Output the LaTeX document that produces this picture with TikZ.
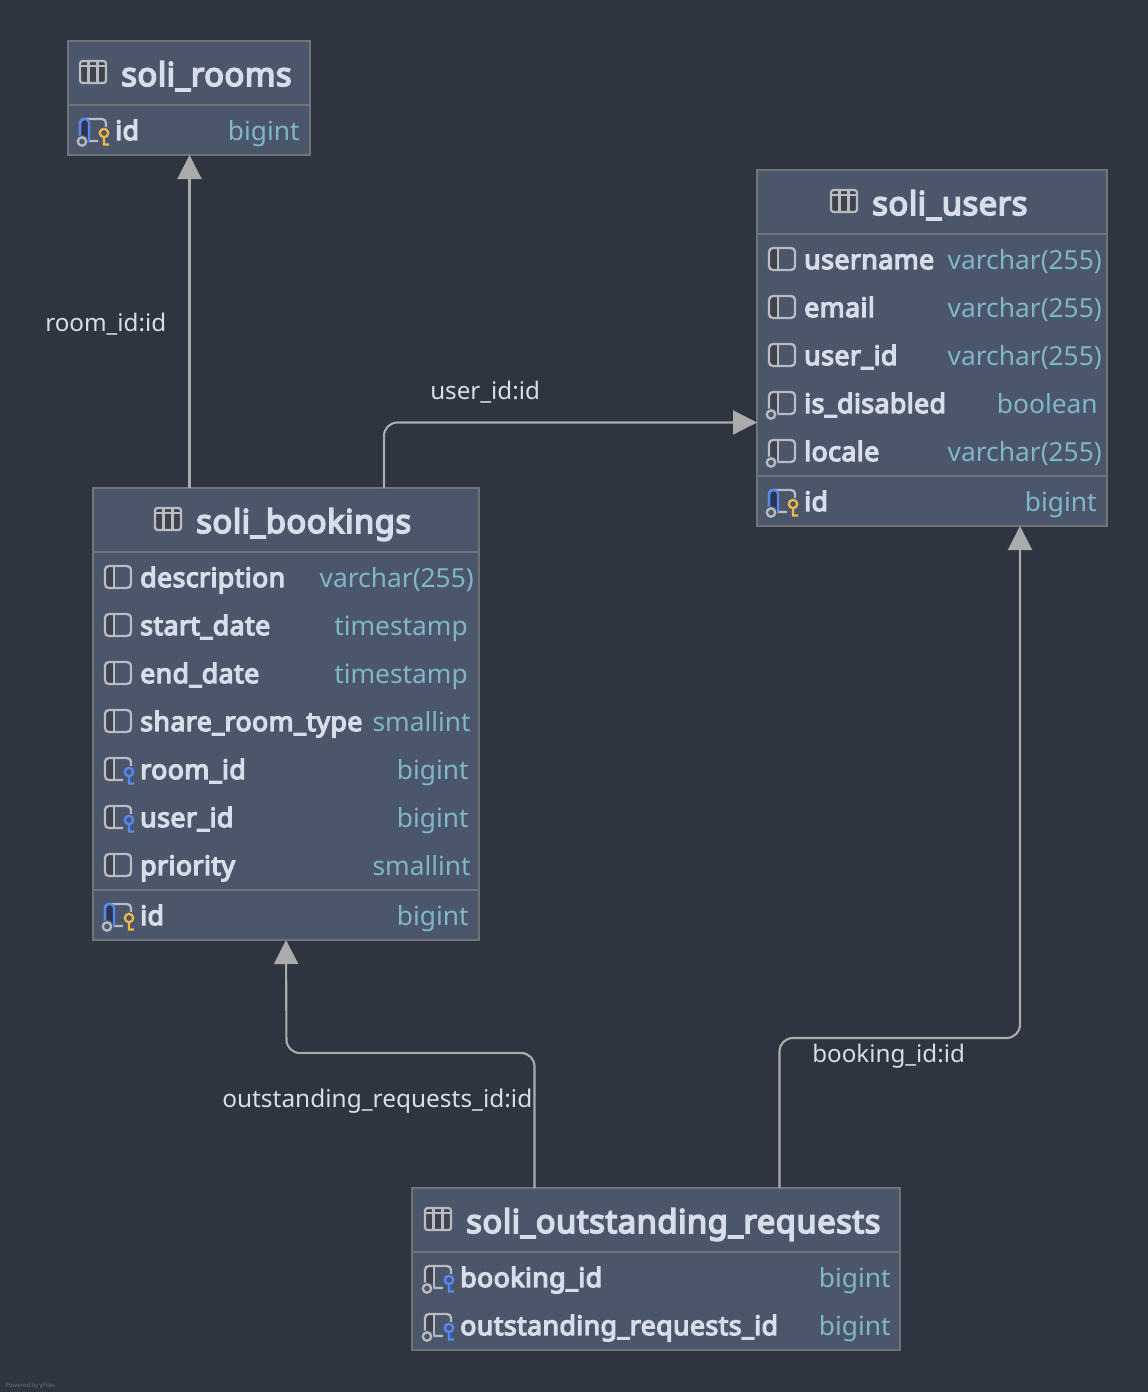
\documentclass[tikz,border=0pt]{standalone}
\usepackage{fontspec}
\setmainfont{Noto Sans}
\newfontface\headface{Noto Sans}[FakeBold=5, LetterSpace=1.7]
\usetikzlibrary{arrows.meta}
\definecolor{canvasbg}{HTML}{2E3440}
\definecolor{tablebg}{HTML}{4C566A}
\definecolor{tableline}{HTML}{6F7276}
\definecolor{nametext}{HTML}{D8DEE9}
\definecolor{typetext}{HTML}{7FB6C8}
\definecolor{edgeline}{HTML}{ABABAB}
\definecolor{iconline}{HTML}{B9BCC2}
\definecolor{icondark}{HTML}{3F434C}
\definecolor{keyblue}{HTML}{548AF7}
\definecolor{keygold}{HTML}{F2B84B}
\definecolor{pkdark}{HTML}{2B3550}
\begin{document}
\begin{tikzpicture}[
        x=0.75pt, y=-0.75pt,
        tablebox/.style={rectangle, draw=tableline, fill=tablebg, line width=1.1pt, outer sep=0pt},
        divider/.style={draw=tableline, line width=1.5pt},
        title/.style={anchor=base west, inner sep=0pt, font=\fontsize{24.5}{28}\headface, text=nametext},
        colname/.style={anchor=base west, inner sep=0pt, font=\fontsize{20}{24}\headface, text=nametext},
        coltype/.style={anchor=base east, inner sep=0pt, font=\fontsize{19.75}{24}\selectfont, text=typetext},
        edgelabel/.style={anchor=base west, inner sep=0pt, font=\fontsize{18.15}{22}\selectfont, text=nametext},
        relation/.style={-{Triangle[length=18pt, width=18pt]}, draw=edgeline, line width=1.6pt, rounded corners=10pt},
        pics/tableicon/.style={code={
            \draw[iconline, line width=1.7pt, fill=icondark, rounded corners=2pt] (-13,-11) rectangle (13,11);
            \draw[iconline, line width=1.7pt] (-13,-6) -- (13,-6) (-4.5,-11) -- (-4.5,11) (4.5,-11) -- (4.5,11);
        }},
        pics/colicon/.style={code={
            \fill[icondark, rounded corners=2pt] (-13,-11) rectangle (-4,11);
            \draw[iconline, line width=1.7pt, rounded corners=3pt] (-13,-11) rectangle (13,11);
            \draw[iconline, line width=1.7pt] (-4,-11) -- (-4,11);
        }},
        pics/pkicon/.style={code={
            \fill[pkdark, rounded corners=2pt] (-13,-11) rectangle (-4,11);
            \draw[iconline, line width=1.7pt, rounded corners=3pt] (-13,-11) rectangle (13,11);
            \draw[keyblue, line width=1.7pt, rounded corners=3pt] (-4,11) -- (-4,-11) -- (-13,-11) -- (-13,11);
        }},
        pics/nullmark/.style={code={
            \draw[iconline, line width=1.7pt, fill=tablebg, preaction={draw=tablebg, line width=3.5pt}] (-11,11.5) circle (4.2);
        }},
        pics/keymark/.style={code={
            \fill[tablebg] (4.5,-3) rectangle (18,16);
            \draw[#1, line width=1.7pt] (11,3) circle (4.2) (11,7) -- (11,15.5) (11,14.5) -- (16,14.5);
        }}
    ]
    \useasboundingbox (0,0) rectangle (1148,1392);
    \fill[canvasbg] (0,0) rectangle (1148,1392);

    % Tables
    \node[tablebox, minimum width=181.5pt, minimum height=85.5pt] (rooms) at (189,98) {};
    \node[tablebox, minimum width=262.5pt, minimum height=267pt] (users) at (932,348) {};
    \node[tablebox, minimum width=289.5pt, minimum height=339pt] (bookings) at (286,714) {};
    \node[tablebox, minimum width=366pt, minimum height=121.5pt] (requests) at (656,1269) {};

    \coordinate (roomsdiv) at (189,105);
    \coordinate (usersdiva) at (932,234);
    \coordinate (usersdivb) at (932,476);
    \coordinate (bookingsdiva) at (286,552);
    \coordinate (bookingsdivb) at (286,890);
    \coordinate (requestsdiv) at (656,1252);
    \draw[divider] (rooms.west |- roomsdiv) -- (rooms.east |- roomsdiv);
    \draw[divider] (users.west |- usersdiva) -- (users.east |- usersdiva);
    \draw[divider] (users.west |- usersdivb) -- (users.east |- usersdivb);
    \draw[divider] (bookings.west |- bookingsdiva) -- (bookings.east |- bookingsdiva);
    \draw[divider] (bookings.west |- bookingsdivb) -- (bookings.east |- bookingsdivb);
    \draw[divider] (requests.west |- requestsdiv) -- (requests.east |- requestsdiv);

    % soli_rooms
    \pic at (93,72) {tableicon};
    \node[title] (roomstitle) at (121,86) {soli\_rooms};
    \pic at (93,130) {pkicon};
    \pic at (93,130) {nullmark};
    \pic at (93,130) {keymark=keygold};
    \node[colname] (roomsid) at (115,140) {id};
    \node[coltype] (roomsidtype) at (300,140) {bigint};

    % soli_users
    \pic at (844,201) {tableicon};
    \node[title] (userstitle) at (872,215) {soli\_users};
    \pic at (782,259) {colicon};
    \node[colname] (username) at (804,269) {username};
    \node[coltype] (usernametype) at (1102,269) {varchar(255)};
    \pic at (782,307) {colicon};
    \node[colname] (email) at (804,317) {email};
    \node[coltype] (emailtype) at (1102,317) {varchar(255)};
    \pic at (782,355) {colicon};
    \node[colname] (userid) at (804,365) {user\_id};
    \node[coltype] (useridtype) at (1102,365) {varchar(255)};
    \pic at (782,403) {colicon};
    \pic at (782,403) {nullmark};
    \node[colname] (isdisabled) at (804,413) {is\_disabled};
    \node[coltype] (isdisabledtype) at (1098,413) {boolean};
    \pic at (782,451) {colicon};
    \pic at (782,451) {nullmark};
    \node[colname] (locale) at (804,461) {locale};
    \node[coltype] (localetype) at (1102,461) {varchar(255)};
    \pic at (782,501) {pkicon};
    \pic at (782,501) {nullmark};
    \pic at (782,501) {keymark=keygold};
    \node[colname] (usersid) at (804,511) {id};
    \node[coltype] (usersidtype) at (1097,511) {bigint};

    % soli_bookings
    \pic at (168,519) {tableicon};
    \node[title] (bookingstitle) at (196,533) {soli\_bookings};
    \pic at (118,577) {colicon};
    \node[colname] (description) at (140,587) {description};
    \node[coltype] (descriptiontype) at (474,587) {varchar(255)};
    \pic at (118,625) {colicon};
    \node[colname] (startdate) at (140,635) {start\_date};
    \node[coltype] (startdatetype) at (468,635) {timestamp};
    \pic at (118,673) {colicon};
    \node[colname] (enddate) at (140,683) {end\_date};
    \node[coltype] (enddatetype) at (468,683) {timestamp};
    \pic at (118,721) {colicon};
    \node[colname] (sharetype) at (140,731) {share\_room\_type};
    \node[coltype] (sharetypetype) at (471,731) {smallint};
    \pic at (118,769) {colicon};
    \pic at (118,769) {keymark=keyblue};
    \node[colname] (roomid) at (140,779) {room\_id};
    \node[coltype] (roomidtype) at (469,779) {bigint};
    \pic at (118,817) {colicon};
    \pic at (118,817) {keymark=keyblue};
    \node[colname] (buserid) at (140,827) {user\_id};
    \node[coltype] (buseridtype) at (469,827) {bigint};
    \pic at (118,865) {colicon};
    \node[colname] (priority) at (140,875) {priority};
    \node[coltype] (prioritytype) at (471,875) {smallint};
    \pic at (118,915) {pkicon};
    \pic at (118,915) {nullmark};
    \pic at (118,915) {keymark=keygold};
    \node[colname] (bookingsid) at (140,925) {id};
    \node[coltype] (bookingsidtype) at (469,925) {bigint};

    % soli_outstanding_requests
    \pic at (438,1219) {tableicon};
    \node[title] (requeststitle) at (466,1233) {soli\_outstanding\_requests};
    \pic at (438,1277) {colicon};
    \pic at (438,1277) {nullmark};
    \pic at (438,1277) {keymark=keyblue};
    \node[colname] (bookingid) at (460,1287) {booking\_id};
    \node[coltype] (bookingidtype) at (891,1287) {bigint};
    \pic at (438,1325) {colicon};
    \pic at (438,1325) {nullmark};
    \pic at (438,1325) {keymark=keyblue};
    \node[colname] (requestsid) at (460,1335) {outstanding\_requests\_id};
    \node[coltype] (requestsidtype) at (891,1335) {bigint};

    % Relations
    \coordinate (roomout) at (189.5,488);
    \coordinate (userout) at (384,488);
    \coordinate (usersleft) at (757,422.5);
    \coordinate (reqleft) at (534.5,1188);
    \coordinate (reqright) at (779.5,1188);
    \coordinate (usersbottom) at (1020,526);
    \draw[relation] (roomout) -- (rooms.south -| roomout);
    \draw[relation] (userout) |- (usersleft);
    \draw[relation] (reqleft) -- (534.5,1053) -- (286.5,1053) -- (bookings.south);
    \draw[relation] (reqright) -- (779.5,1038) -- (1020,1038) -- (usersbottom);

    % Labels
    \node[edgelabel] (roomlabel) at (45,331) {room\_id:id};
    \node[edgelabel] (userlabel) at (430,399) {user\_id:id};
    \node[edgelabel, font=\fontsize{18.33}{22}\selectfont] (requestlabel) at (222,1107) {outstanding\_requests\_id:id};
    \node[edgelabel] (bookinglabel) at (812,1062) {booking\_id:id};
    \node[anchor=base west, inner sep=0pt, font=\fontsize{4.5}{5}\selectfont, text=tableline] (poweredby) at (5,1387) {Powered by yFiles};
\end{tikzpicture}
\end{document}
